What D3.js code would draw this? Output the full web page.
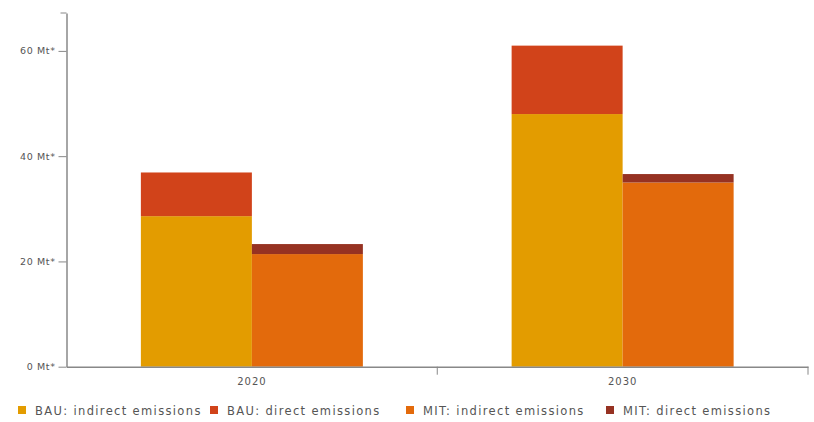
<!DOCTYPE html>
<html>
<head>
<meta charset="utf-8">
<script src="https://cdn.jsdelivr.net/npm/d3@7"></script>
<style>
  body { margin: 0; background: #fff; }
  text { font-family: "DejaVu Sans", Verdana, sans-serif; fill: #555; }
</style>
</head>
<body>
<div id="chart"></div>
<script>
// data (Mt)
const years = ["2020", "2030"];
const bauIndirect = [28.6, 48.0];
const bauDirect = [8.3, 13.0];
const mitIndirect = [21.4, 35.0];
const mitDirect = [1.9, 1.6];
const yTicks = [0, 20, 40, 60];
const legendLabels = ["BAU: indirect emissions", "BAU: direct emissions", "MIT: indirect emissions", "MIT: direct emissions"];
const colors = ["#E39C00", "#D1431A", "#E36A0C", "#963222"];

const width = 814, height = 422;
const margin = {top: 13, right: 6, bottom: 55, left: 66.5};

const svg = d3.select("#chart").append("svg")
  .attr("width", width)
  .attr("height", height);

const y = d3.scaleLinear()
  .domain([0, 67.2])
  .range([366.7, margin.top]);

const x = d3.scaleBand()
  .domain(years)
  .range([margin.left, width - margin.right]);

// each group: two bars, BAU then MIT
const inner = d3.scaleBand()
  .domain(["BAU", "MIT"])
  .range([0, 222]);

const stacks = years.map((yr, i) => ({
  year: yr,
  bars: [
    {grp: "BAU", parts: [{v: bauIndirect[i], c: colors[0]}, {v: bauDirect[i], c: colors[1]}]},
    {grp: "MIT", parts: [{v: mitIndirect[i], c: colors[2]}, {v: mitDirect[i], c: colors[3]}]}
  ]
}));

const g = svg.append("g");
stacks.forEach(s => {
  const x0 = x(s.year) + x.bandwidth() / 2 - 111;
  s.bars.forEach(b => {
    let base = 0;
    b.parts.forEach(p => {
      g.append("rect")
        .attr("x", x0 + inner(b.grp))
        .attr("width", inner.bandwidth())
        .attr("y", y(base + p.v))
        .attr("height", y(base) - y(base + p.v))
        .attr("fill", p.c);
      base += p.v;
    });
  });
});

// y axis
const yAxis = svg.append("g")
  .attr("transform", `translate(${margin.left},0)`)
  .call(d3.axisLeft(y).tickValues(yTicks).tickSize(8).tickSizeOuter(0).tickFormat(d => d + " Mt*"));
yAxis.select(".domain").attr("stroke", "#888").attr("stroke-width", 1.5);
yAxis.selectAll(".tick line").attr("stroke", "#888");
yAxis.selectAll(".tick text")
  .attr("font-size", 9.5)
  .attr("letter-spacing", 0.6)
  .attr("fill", "#666")
  .attr("x", -11);
svg.append("line")
  .attr("x1", margin.left - 6).attr("x2", margin.left)
  .attr("y1", margin.top).attr("y2", margin.top)
  .attr("stroke", "#888");

// x axis
const xAxis = svg.append("g")
  .attr("transform", `translate(0,${y(0)})`)
  .call(d3.axisBottom(x).tickSize(0).tickSizeOuter(0));
xAxis.select(".domain").attr("stroke", "#888").attr("stroke-width", 1.5);
xAxis.selectAll(".tick text")
  .attr("font-size", 10)
  .attr("letter-spacing", 1)
  .attr("fill", "#555")
  .attr("y", 11)
  .attr("dy", "0.71em");
// separators between bands
[x.range()[0] + x.step(), width - margin.right].forEach(px => {
  svg.append("line")
    .attr("x1", px).attr("x2", px)
    .attr("y1", y(0)).attr("y2", y(0) + 8)
    .attr("stroke", "#888");
});

// legend
const legendX = [18, 210, 406, 606];
const legend = svg.append("g");
legendLabels.forEach((lab, i) => {
  legend.append("rect")
    .attr("x", legendX[i]).attr("y", 406)
    .attr("width", 8).attr("height", 8)
    .attr("fill", colors[i]);
  legend.append("text")
    .attr("x", legendX[i] + 17).attr("y", 415)
    .attr("font-size", 11.5)
    .attr("letter-spacing", 1.35)
    .attr("fill", "#555")
    .text(lab);
});
</script>
</body>
</html>
